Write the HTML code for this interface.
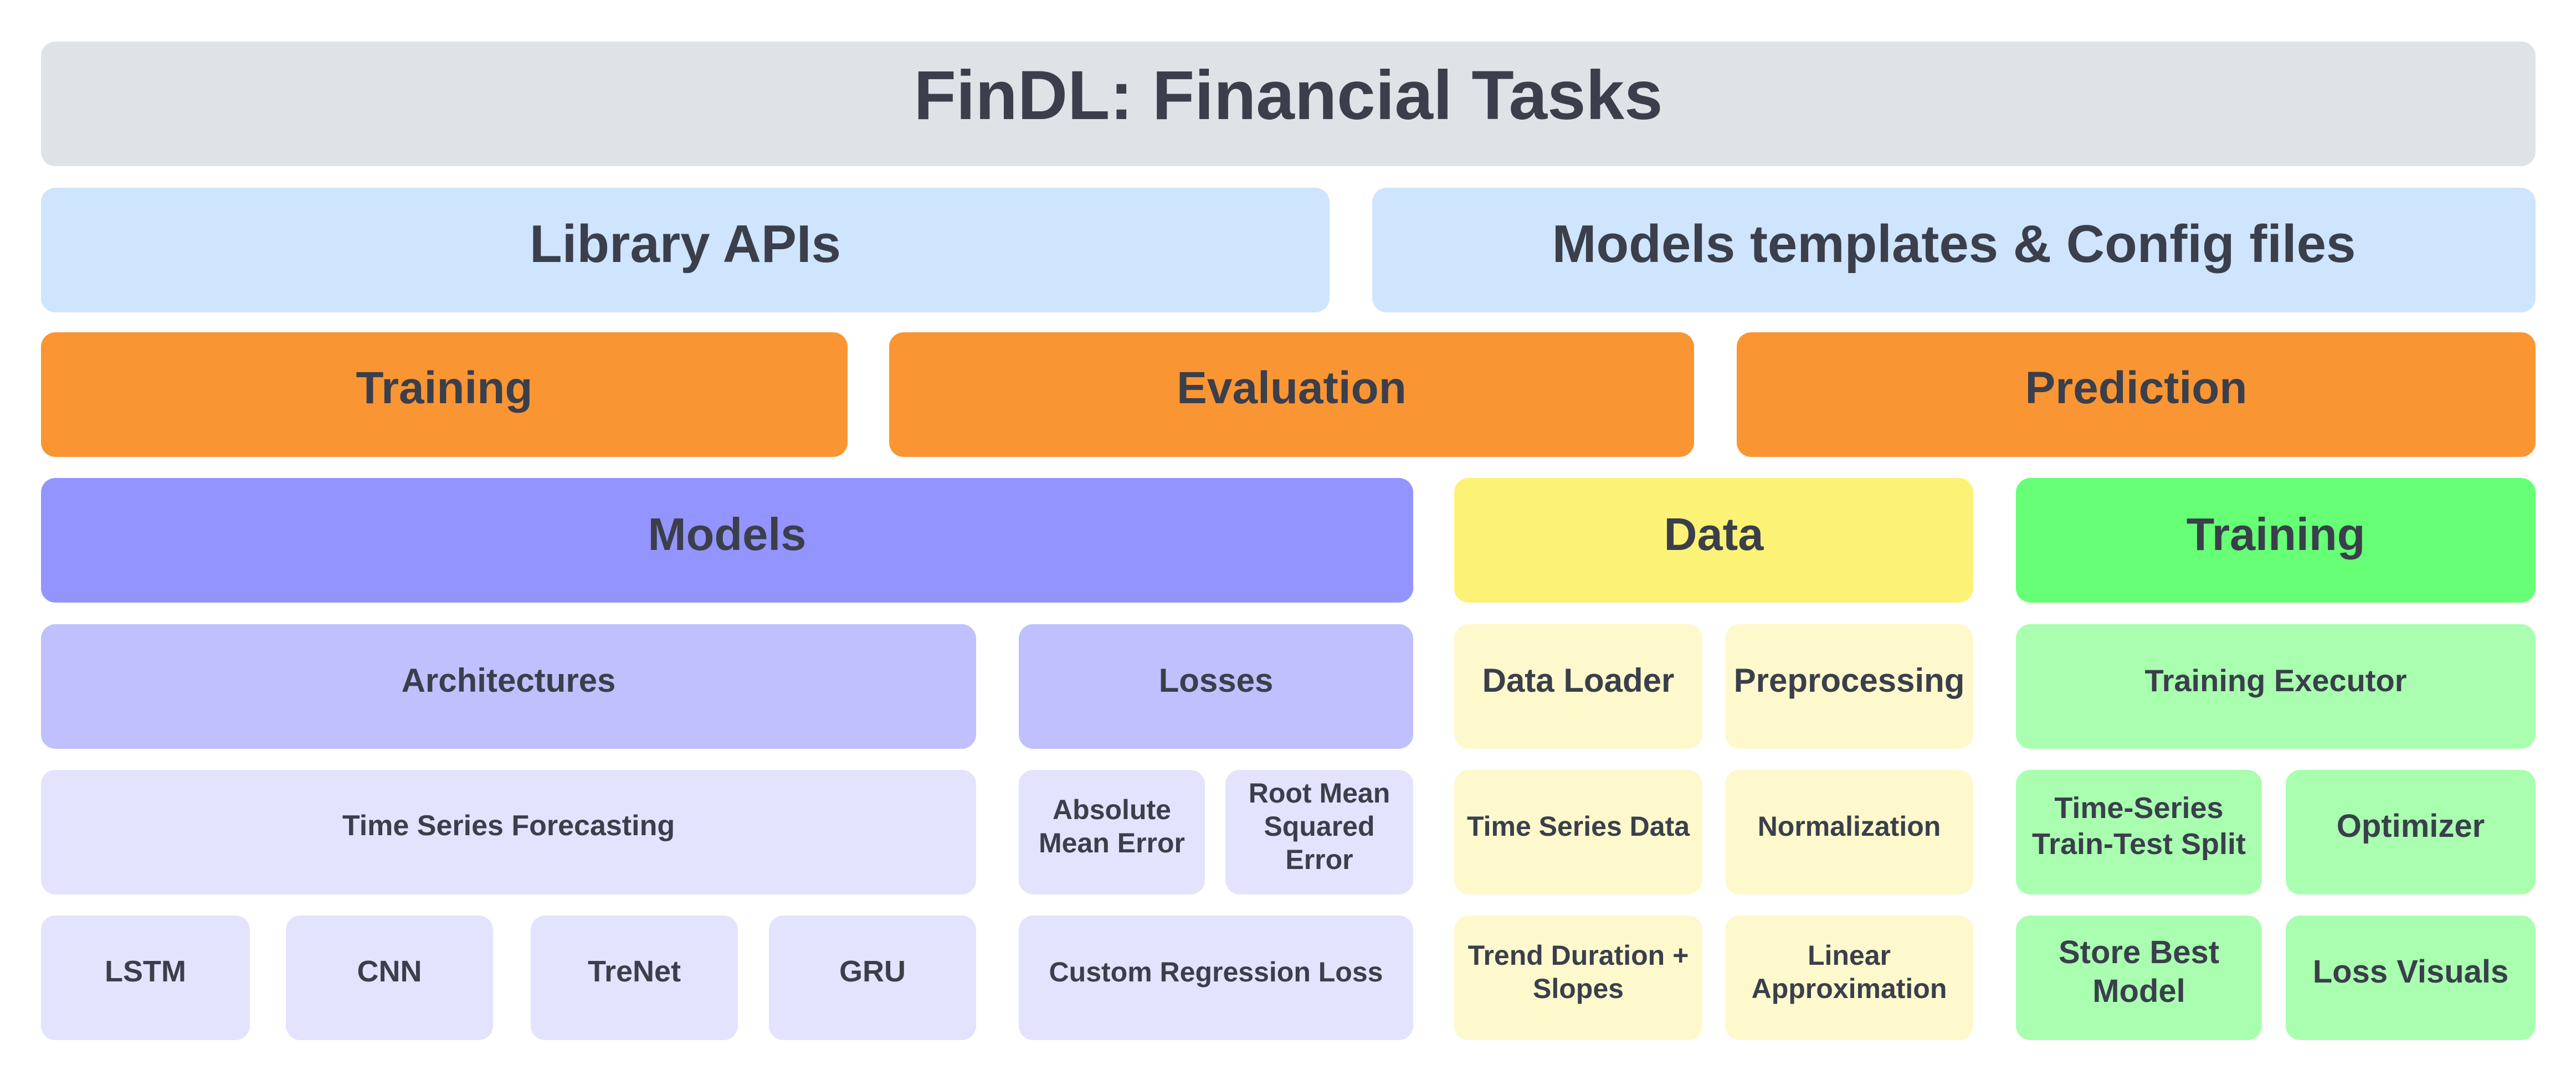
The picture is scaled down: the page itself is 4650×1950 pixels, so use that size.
<!DOCTYPE html>
<html><head><meta charset="utf-8"><style>
body{margin:0;width:4650px;height:1950px;background:#fff;position:relative;overflow:hidden;font-family:"Liberation Sans",sans-serif;font-weight:bold;color:#3a3f4b}
.b{position:absolute;display:flex;align-items:center;justify-content:center;text-align:center;border-radius:26px;line-height:1.2;box-sizing:border-box;padding-bottom:22px}
</style></head><body>
<div class="b" style="left:74px;top:75px;width:4503px;height:225px;background:#dfe3e8;font-size:125px;padding-bottom:30px">FinDL: Financial Tasks</div>
<div class="b" style="left:74px;top:339px;width:2326px;height:225px;background:#cfe4fd;font-size:96px">Library APIs</div>
<div class="b" style="left:2477px;top:339px;width:2100px;height:225px;background:#cfe4fd;font-size:96px">Models templates &amp; Config files</div>
<div class="b" style="left:74px;top:600px;width:1456px;height:225px;background:#fa9533;font-size:82px">Training</div>
<div class="b" style="left:1605px;top:600px;width:1453px;height:225px;background:#fa9533;font-size:82px">Evaluation</div>
<div class="b" style="left:3135px;top:600px;width:1442px;height:225px;background:#fa9533;font-size:82px">Prediction</div>
<div class="b" style="left:74px;top:863px;width:2477px;height:225px;background:#9494ff;font-size:83px">Models</div>
<div class="b" style="left:2625px;top:863px;width:937px;height:225px;background:#fcf275;font-size:83px">Data</div>
<div class="b" style="left:3639px;top:863px;width:938px;height:225px;background:#66ff75;font-size:83px">Training</div>
<div class="b" style="left:74px;top:1127px;width:1688px;height:225px;background:#c0c0ff;font-size:60px">Architectures</div>
<div class="b" style="left:1839px;top:1127px;width:712px;height:225px;background:#c0c0ff;font-size:60px">Losses</div>
<div class="b" style="left:2625px;top:1127px;width:448px;height:225px;background:#fef9cc;font-size:60px">Data Loader</div>
<div class="b" style="left:3114px;top:1127px;width:448px;height:225px;background:#fef9cc;font-size:60px">Preprocessing</div>
<div class="b" style="left:3639px;top:1127px;width:938px;height:225px;background:#a9ffaf;font-size:56px">Training Executor</div>
<div class="b" style="left:74px;top:1390px;width:1688px;height:225px;background:#e3e3fd;font-size:52px">Time Series Forecasting</div>
<div class="b" style="left:1839px;top:1390px;width:336px;height:225px;background:#e3e3fd;font-size:50px">Absolute<br>Mean Error</div>
<div class="b" style="left:2212px;top:1390px;width:339px;height:225px;background:#e3e3fd;font-size:50px">Root Mean<br>Squared<br>Error</div>
<div class="b" style="left:2625px;top:1390px;width:448px;height:225px;background:#fef9cc;font-size:50px">Time Series Data</div>
<div class="b" style="left:3114px;top:1390px;width:448px;height:225px;background:#fef9cc;font-size:50px">Normalization</div>
<div class="b" style="left:3639px;top:1390px;width:444px;height:225px;background:#a9ffaf;font-size:54px">Time-Series<br>Train-Test Split</div>
<div class="b" style="left:4126px;top:1390px;width:451px;height:225px;background:#a9ffaf;font-size:58px">Optimizer</div>
<div class="b" style="left:74px;top:1653px;width:377px;height:225px;background:#e3e3fd;font-size:54px">LSTM</div>
<div class="b" style="left:516px;top:1653px;width:374px;height:225px;background:#e3e3fd;font-size:54px">CNN</div>
<div class="b" style="left:958px;top:1653px;width:374px;height:225px;background:#e3e3fd;font-size:54px">TreNet</div>
<div class="b" style="left:1388px;top:1653px;width:374px;height:225px;background:#e3e3fd;font-size:54px">GRU</div>
<div class="b" style="left:1839px;top:1653px;width:712px;height:225px;background:#e3e3fd;font-size:50px">Custom Regression Loss</div>
<div class="b" style="left:2625px;top:1653px;width:448px;height:225px;background:#fef9cc;font-size:50px">Trend Duration +<br>Slopes</div>
<div class="b" style="left:3114px;top:1653px;width:448px;height:225px;background:#fef9cc;font-size:50px">Linear<br>Approximation</div>
<div class="b" style="left:3639px;top:1653px;width:444px;height:225px;background:#a9ffaf;font-size:58px">Store Best<br>Model</div>
<div class="b" style="left:4126px;top:1653px;width:451px;height:225px;background:#a9ffaf;font-size:58px">Loss Visuals</div>
</body></html>
